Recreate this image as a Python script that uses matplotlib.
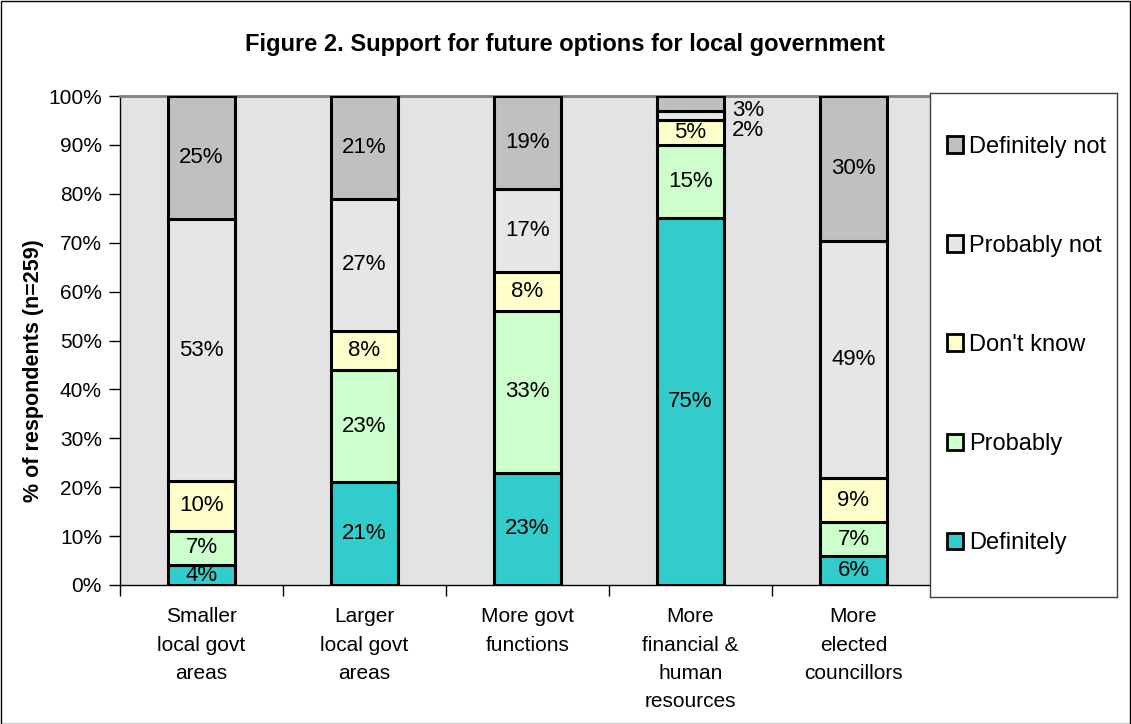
import matplotlib
matplotlib.use("Agg")
import matplotlib.pyplot as plt
from matplotlib.patches import Rectangle, Patch
import numpy as np

plt.rcParams['font.family'] = ['Liberation Sans', 'DejaVu Sans']

categories = ["Smaller\nlocal govt\nareas", "Larger\nlocal govt\nareas", "More govt\nfunctions",
              "More\nfinancial &\nhuman\nresources", "More\nelected\ncouncillors"]
series_names = ["Definitely", "Probably", "Don't know", "Probably not", "Definitely not"]
definitely = [4, 21, 23, 75, 6]
probably = [7, 23, 33, 15, 7]
dont_know = [10, 8, 8, 5, 9]
probably_not = [53, 27, 17, 2, 49]
definitely_not = [25, 21, 19, 3, 30]
yticks = [0, 10, 20, 30, 40, 50, 60, 70, 80, 90, 100]

colors = ["#33CCCC", "#CCFFCC", "#FFFFCC", "#E6E6E6", "#C0C0C0"]
series = [definitely, probably, dont_know, probably_not, definitely_not]

W, H = 1131, 724
fig = plt.figure(figsize=(W/100, H/100), dpi=100)
fig.patch.set_facecolor("white")
fig.add_artist(Rectangle((0.5/W, 0.5/H), 1 - 1.5/W, 1 - 1.5/H, transform=fig.transFigure,
                         fill=False, edgecolor="black", linewidth=1))

ax = fig.add_axes([120/W, (H-585)/H, (1098-120)/W, (585-96)/H])
ax.set_facecolor("#E3E3E3")

n = len(categories)
x = np.arange(n)
totals = np.sum(np.array(series, dtype=float), axis=0)
bottom = np.zeros(n)
bar_w = 0.405
outside = {}
for vals, col, name in zip(series, colors, series_names):
    v = np.array(vals, dtype=float)
    pct = v / totals * 100
    ax.bar(x, pct, bar_w, bottom=bottom, color=col, edgecolor="black", linewidth=2.2,
           label=name, zorder=3)
    for i in range(n):
        if vals[i] >= 4:
            ax.text(x[i], bottom[i] + pct[i] / 2, f"{vals[i]}%", ha="center", va="center",
                    fontsize=16, zorder=4)
        else:
            outside.setdefault(i, []).append(vals[i])
    bottom += pct

for i, labs in outside.items():
    ypos = 97
    for lab in reversed(labs):
        ax.text(x[i] + bar_w / 2 + 0.05, ypos, f"{lab}%", ha="left", va="center", fontsize=16, zorder=4)
        ypos -= 4

ax.set_xlim(-0.5, n + 0.5)
ax.set_ylim(0, 100)
ax.set_yticks(yticks)
ax.set_yticklabels([f"{t}%" for t in yticks], fontsize=15)
ax.set_xticks(x)
ax.set_xticklabels(categories, fontsize=15, linespacing=1.62, va="top")
ax.set_xticks(np.arange(-0.5, n + 1, 1), minor=True)
ax.tick_params(axis="x", which="major", length=0, pad=16)
ax.tick_params(axis="x", which="minor", length=8, width=1, direction="out", color="black")
ax.tick_params(axis="y", length=8, width=1, direction="out", pad=5)
for s in ["left", "bottom"]:
    ax.spines[s].set_color("black")
    ax.spines[s].set_linewidth(1)
ax.spines["top"].set_color("#808080")
ax.spines["top"].set_linewidth(2)
ax.spines["right"].set_color("#808080")
ax.spines["right"].set_linewidth(2)

ax.set_ylabel("% of respondents (n=259)", fontsize=15.5, fontweight="bold")
ax.yaxis.set_label_coords((44 - 120) / 978, (585 - 371) / 489)

fig.text(565/W, 1 - 45/H, "Figure 2. Support for future options for local government",
         ha="center", va="center", fontsize=17, fontweight="bold")

# legend box
lax = fig.add_axes([930/W, (H-597)/H, (1117-930)/W, (597-93)/H])
lax.set_facecolor("white")
lax.set_xticks([]); lax.set_yticks([])
for s in lax.spines.values():
    s.set_color("#404040"); s.set_linewidth(1)
handles = [Patch(facecolor=c, edgecolor="black", linewidth=2) for c in colors][::-1]
lax.legend(handles, series_names[::-1], loc="center left", frameon=False, fontsize=17,
           handlelength=0.7, handleheight=0.7, handletextpad=0.25, labelspacing=3.27,
           borderaxespad=0.3, bbox_to_anchor=(0.0, 0.5))

fig.savefig("out.png", dpi=100)
